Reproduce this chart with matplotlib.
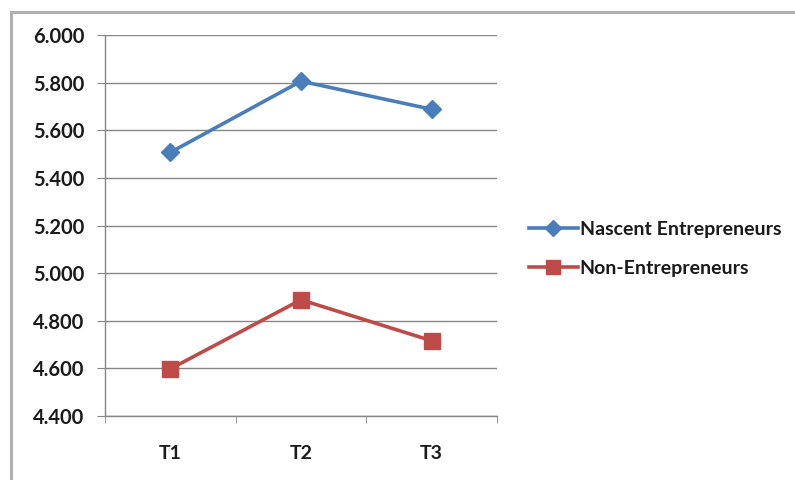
import matplotlib.pyplot as plt
from matplotlib.patches import Rectangle

periods = ["T1", "T2", "T3"]
nascent = [5.507, 5.806, 5.688]
non_entre = [4.598, 4.888, 4.716]
y_ticks = [4.4, 4.6, 4.8, 5.0, 5.2, 5.4, 5.6, 5.8, 6.0]

plt.rcParams["font.family"] = ["Lato", "DejaVu Sans"]
plt.rcParams["font.weight"] = "bold"

fig = plt.figure(figsize=(7.95, 4.8), dpi=100)
# chart frame (only left and top edges fall inside the image)
fig.patches.append(Rectangle((11 / 795, -0.1), 1.2, 1 - 12 / 480 + 0.1,
                             transform=fig.transFigure, fill=False,
                             edgecolor="#b0b0b0", linewidth=2.2))

ax = fig.add_axes([105 / 795, 64 / 480, 392 / 795, 381 / 480])
x = list(range(len(periods)))

ax.plot(x, nascent, color="#4a7ebb", linewidth=2.6, marker="D",
        markersize=9.5, label="Nascent Entrepreneurs")
ax.plot(x, non_entre, color="#be4b48", linewidth=2.6, marker="s",
        markersize=12, label="Non-Entrepreneurs")

ax.set_xlim(-0.5, len(periods) - 0.5)
ax.set_ylim(4.4, 6.0)
ax.set_yticks(y_ticks)
ax.set_yticklabels([f"{v:.3f}" for v in y_ticks])
ax.set_xticks(x)
ax.set_xticklabels(periods)
ax.set_xticks([-0.5, 0.5, 1.5, 2.5], minor=True)

ax.grid(axis="y", color="#868686", linewidth=1)
ax.set_axisbelow(True)
for side in ["top", "right"]:
    ax.spines[side].set_visible(False)
for side in ["left", "bottom"]:
    ax.spines[side].set_color("#868686")
    ax.spines[side].set_linewidth(1)

ax.tick_params(axis="y", length=6, color="#868686", labelsize=14.5,
               labelcolor="#1a1a1a", pad=9)
ax.tick_params(axis="x", which="major", length=0, labelsize=14,
               labelcolor="#1a1a1a", pad=21)
ax.tick_params(axis="x", which="minor", length=5, color="#868686")

leg = ax.legend(loc="center left", bbox_to_anchor=(529 / 795, 231 / 480),
                bbox_transform=fig.transFigure, frameon=False,
                prop={"size": 14, "weight": "bold"}, handlelength=2.5,
                handletextpad=0.1, labelspacing=1.15, borderaxespad=0,
                borderpad=0, markerscale=0.85)
for t in leg.get_texts():
    t.set_color("#1a1a1a")

fig.savefig("out.png", dpi=100)
